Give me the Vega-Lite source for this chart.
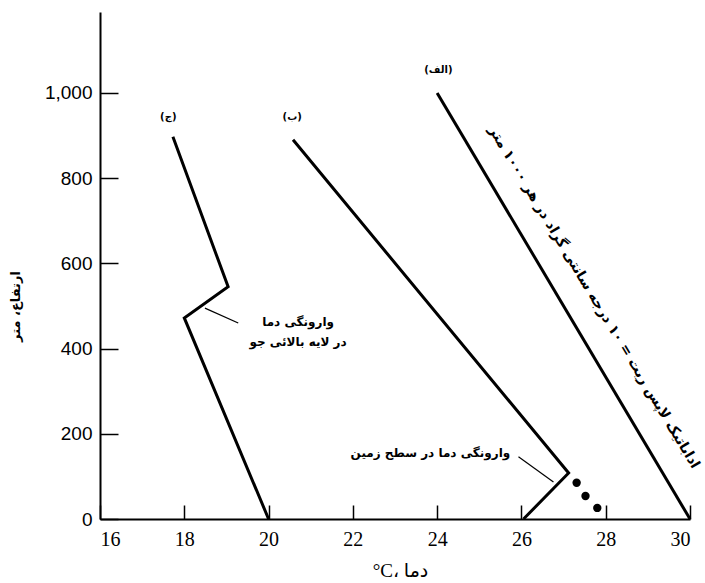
{
  "$schema": "https://vega.github.io/schema/vega-lite/v6.json",
  "width": 590,
  "height": 507,
  "autosize": "none",
  "padding": {"left": 100, "top": 12, "right": 15, "bottom": 64},
  "background": "white",
  "config": {"view": {"stroke": null}},
  "datasets": {
    "lines": [
      {"series": "A", "ord": 1, "temp": 24, "alt": 1000},
      {"series": "A", "ord": 2, "temp": 30, "alt": 0},
      {"series": "B", "ord": 1, "temp": 20.58, "alt": 890},
      {"series": "B", "ord": 2, "temp": 27.12, "alt": 108},
      {"series": "B", "ord": 3, "temp": 26.05, "alt": 0},
      {"series": "C", "ord": 1, "temp": 17.73, "alt": 897},
      {"series": "C", "ord": 2, "temp": 19.04, "alt": 545},
      {"series": "C", "ord": 3, "temp": 18.0, "alt": 472},
      {"series": "C", "ord": 4, "temp": 20.0, "alt": 0}
    ],
    "dots": [
      {"temp": 27.31, "alt": 85},
      {"temp": 27.52, "alt": 54},
      {"temp": 27.8, "alt": 26}
    ],
    "leaders": [
      {"temp": 18.49, "alt": 495, "temp2": 19.28, "alt2": 460},
      {"temp": 25.93, "alt": 146, "temp2": 26.76, "alt2": 87}
    ],
    "tags": [
      {"temp": 24.03, "alt": 1054, "label": "(الف)"},
      {"temp": 20.56, "alt": 944, "label": "(ب)"},
      {"temp": 17.62, "alt": 944, "label": "(ج)"}
    ],
    "notes": [
      {"temp": 20.7, "alt": 462, "label": "وارونگی دما"},
      {"temp": 20.7, "alt": 415, "label": "در لایه بالائی جو"},
      {"temp": 23.84, "alt": 155, "label": "وارونگی دما در سطح زمین"}
    ],
    "slope": [
      {"temp": 27.72, "alt": 520, "label": "اداباتیک لاپس ریت = ۱۰ درجه سانتی گراد در هر ۱۰۰۰ متر"}
    ]
  },
  "encoding": {
    "x": {
      "field": "temp",
      "type": "quantitative",
      "scale": {"domain": [16, 30], "nice": false, "zero": false},
      "axis": {
        "title": "°C، دما",
        "values": [16, 18, 20, 22, 24, 26, 28, 30],
        "format": "d",
        "grid": false,
        "domainColor": "black",
        "domainWidth": 2,
        "tickColor": "black",
        "tickWidth": 1.5,
        "tickSize": -14,
        "labelPadding": 24,
        "labelFont": "Liberation Serif",
        "labelFontSize": 20,
        "labelColor": "black",
        "titleFont": "Liberation Serif, DejaVu Sans",
        "titleFontSize": 19,
        "titleFontWeight": "normal",
        "titleColor": "black",
        "titleX": 300,
        "titleY": 51,
        "titleAnchor": "middle",
        "titleBaseline": "middle"
      }
    },
    "y": {
      "field": "alt",
      "type": "quantitative",
      "scale": {"domain": [0, 1190], "nice": false},
      "axis": {
        "title": "ارتفاع، متر",
        "values": [0, 200, 400, 600, 800, 1000],
        "format": ",d",
        "grid": false,
        "domainColor": "black",
        "domainWidth": 2,
        "tickColor": "black",
        "tickWidth": 1.5,
        "tickSize": -18,
        "labelPadding": 26,
        "labelFont": "Liberation Sans",
        "labelFontSize": 19,
        "labelColor": "black",
        "titleFont": "DejaVu Sans",
        "titleFontSize": 13,
        "titleFontWeight": "bold",
        "titleColor": "black",
        "titleX": -85,
        "titleY": 294,
        "titleAngle": -90,
        "titleAnchor": "middle",
        "titleBaseline": "middle"
      }
    }
  },
  "layer": [
    {
      "data": {"name": "lines"},
      "mark": {"type": "line", "color": "black", "strokeWidth": 3, "strokeJoin": "miter"},
      "encoding": {
        "detail": {"field": "series"},
        "order": {"field": "ord", "type": "quantitative"}
      }
    },
    {
      "data": {"name": "dots"},
      "mark": {"type": "circle", "color": "black", "size": 70, "opacity": 1}
    },
    {
      "data": {"name": "leaders"},
      "mark": {"type": "rule", "color": "black", "strokeWidth": 1.2},
      "encoding": {
        "x2": {"field": "temp2"},
        "y2": {"field": "alt2"}
      }
    },
    {
      "data": {"name": "tags"},
      "mark": {"type": "text", "font": "DejaVu Sans", "fontSize": 10, "fontWeight": "bold", "color": "black", "align": "center", "baseline": "middle"},
      "encoding": {"text": {"field": "label"}}
    },
    {
      "data": {"name": "notes"},
      "mark": {"type": "text", "font": "DejaVu Sans", "fontSize": 12, "fontWeight": "bold", "color": "black", "align": "center", "baseline": "middle"},
      "encoding": {"text": {"field": "label"}}
    },
    {
      "data": {"name": "slope"},
      "mark": {"type": "text", "font": "DejaVu Sans", "fontSize": 14, "fontWeight": "bold", "color": "black", "align": "center", "baseline": "middle", "angle": 59},
      "encoding": {"text": {"field": "label"}}
    }
  ]
}
